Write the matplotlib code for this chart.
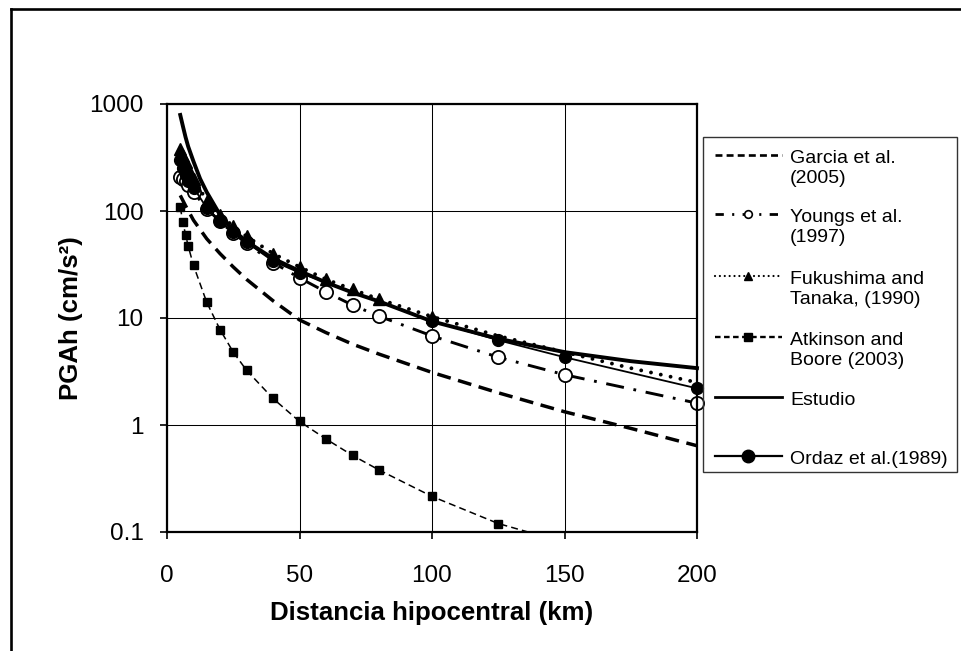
import matplotlib
matplotlib.use('Agg')
import matplotlib.pyplot as plt
from matplotlib.lines import Line2D
from matplotlib.patches import Rectangle

plt.rcParams['font.family'] = ['Liberation Sans', 'DejaVu Sans']
plt.rcParams['lines.scale_dashes'] = False

# ---------------- data ----------------
garcia_x = [5, 7, 10, 15, 20, 25, 30, 40, 50, 60, 70, 80, 100, 125, 150, 175, 200]
garcia_y = [140, 112, 82, 55, 40, 30, 23, 14.5, 9.6, 7.3, 5.7, 4.6, 3.1, 2.0, 1.33, 0.93, 0.64]

youngs_x = [5, 6, 7, 8, 10, 15, 20, 25, 30, 40, 50, 60, 70, 80, 100, 125, 150, 200]
youngs_y = [208, 200, 190, 175, 150, 105, 80, 62, 50, 33, 23.7, 17.5, 13.2, 10.4, 6.8, 4.3, 2.95, 1.6]

fuku_x = [5, 6, 7, 8, 10, 15, 20, 25, 30, 40, 50, 60, 70, 80, 100, 125, 150, 175, 200]
fuku_y = [380, 330, 290, 255, 200, 125, 92, 72, 58, 40, 30, 23, 18.5, 15, 10.3, 6.8, 4.8, 3.4, 2.5]
fuku_n_marked = 15      # markers only up to 100 km

atk_x = [5, 6, 7, 8, 10, 15, 20, 25, 30, 40, 50, 60, 70, 80, 100, 125, 150]
atk_y = [108, 79, 60, 47, 31, 14, 7.8, 4.8, 3.25, 1.77, 1.08, 0.74, 0.52, 0.38, 0.215, 0.12, 0.08]
atk_n_marked = 16

est_x = [5, 6, 7, 8, 10, 12.5, 15, 20, 25, 30, 40, 50, 60, 70, 80, 100, 125, 150, 175, 200]
est_y = [790, 620, 490, 400, 290, 200, 150, 92, 66, 52, 36, 27.5, 21.5, 17.3, 14.3, 9.3, 6.4, 4.8, 3.95, 3.4]

ordaz_x = [5, 6, 7, 8, 10, 15, 20, 25, 30, 40, 50, 100, 125, 150, 200]
ordaz_y = [300, 250, 215, 190, 165, 107, 80, 63, 51, 34, 26.5, 9.4, 6.2, 4.3, 2.2]

xticks = [0, 50, 100, 150, 200]
yticks = [0.1, 1, 10, 100, 1000]
ytick_labels = ['0.1', '1', '10', '100', '1000']

legend_labels = ['Garcia et al.\n(2005)', 'Youngs et al.\n(1997)',
                 'Fukushima and\nTanaka, (1990)', 'Atkinson and\nBoore (2003)',
                 'Estudio', 'Ordaz et al.(1989)']

# ---------------- figure ----------------
W, H = 962, 651
fig = plt.figure(figsize=(W / 100, H / 100), dpi=100)


def fx(x):
    return x / W


def fy(y):
    return 1 - y / H


ax = fig.add_axes([fx(167), fy(532), (697 - 167) / W, (532 - 104) / H])
ax.set_yscale('log')
ax.set_xlim(0, 200)
ax.set_ylim(0.1, 1000)

ax.grid(True, which='major', color='black', linewidth=0.75)
ax.set_axisbelow(True)
ax.minorticks_off()

ax.plot(garcia_x, garcia_y, color='black', lw=2.5, dashes=(10, 5.5), clip_on=False, zorder=3)
ax.plot(youngs_x, youngs_y, color='black', lw=2.1, dashes=(13, 7, 2, 7),
        marker='o', ms=9.5, mfc='white', mec='black', mew=1.3, clip_on=False, zorder=4)
ax.plot(fuku_x, fuku_y, color='black', lw=2.8, dashes=(0.01, 7.2), dash_capstyle='round',
        marker='^', ms=8.5, mfc='black', mec='black', markevery=slice(0, fuku_n_marked),
        clip_on=False, zorder=3)
ax.plot(atk_x, atk_y, color='black', lw=1.1, dashes=(5, 3),
        marker='s', ms=6, mfc='black', mec='black', markevery=slice(0, atk_n_marked), zorder=3)
ax.plot(est_x, est_y, color='black', lw=2.8, clip_on=False, zorder=5)
ax.plot(ordaz_x, ordaz_y, color='black', lw=1.3, marker='o', ms=8.5,
        mfc='black', mec='black', clip_on=False, zorder=6)

for s in ax.spines.values():
    s.set_linewidth(1.6)
    s.set_zorder(7)

ax.set_xticks(xticks)
ax.set_xticklabels([str(v) for v in xticks])
ax.set_yticks(yticks)
ax.set_yticklabels(ytick_labels)
ax.tick_params(axis='both', direction='out', length=5, width=1.2, labelsize=17.5)
ax.tick_params(axis='x', pad=19)
ax.tick_params(axis='y', pad=12)

ax.set_xlabel('Distancia hipocentral (km)', fontsize=18.6, fontweight='bold', va='center')
ax.xaxis.set_label_coords(0.5, -(613 - 532) / 428)
ax.set_ylabel('PGAh (cm/s²)', fontsize=18.6, fontweight='bold', va='center')
ax.yaxis.set_label_coords((71 - 167) / 530, 0.5)

# ---------------- legend (drawn manually, Excel-like) ----------------
fig.patches.append(Rectangle((fx(703), fy(472)), (957 - 703) / W, (472 - 137) / H,
                             transform=fig.transFigure, fill=False,
                             edgecolor='#333333', lw=1.0))

entry_y = [155, 214, 276, 337, 397, 456]
hx0, hx1, hxm = 715, 782, 748.5
styles = [
    dict(lw=1.9, dashes=(5, 3)),
    dict(lw=2.0, dashes=(6, 6, 1.5, 6)),
    dict(lw=1.6, dashes=(0.01, 3.5), dash_capstyle='round'),
    dict(lw=1.7, dashes=(4, 2.5)),
    dict(lw=2.0),
    dict(lw=1.6),
]
markers = [None,
           dict(marker='o', ms=5.5, mfc='white', mec='black', mew=1.2),
           dict(marker='^', ms=6, mfc='black', mec='black'),
           dict(marker='s', ms=5.5, mfc='black', mec='black'),
           None,
           dict(marker='o', ms=9, mfc='black', mec='black')]

for yy, st, mk, lab in zip(entry_y, styles, markers, legend_labels):
    fig.add_artist(Line2D([fx(hx0), fx(hx1)], [fy(yy), fy(yy)], transform=fig.transFigure,
                          color='black', **st))
    if mk is not None:
        fig.add_artist(Line2D([fx(hxm)], [fy(yy)], transform=fig.transFigure,
                              color='black', linestyle='none', **mk))
    fig.text(fx(790), fy(yy - 5), lab, fontsize=14, ha='left', va='top',
             linespacing=1.22)

# ---------------- outer frame ----------------
fig.add_artist(Line2D([fx(11), fx(W + 5)], [fy(9), fy(9)], transform=fig.transFigure,
                      color='black', lw=1.9))
fig.add_artist(Line2D([fx(11), fx(11)], [fy(9), fy(H + 5)], transform=fig.transFigure,
                      color='black', lw=1.9))

fig.savefig('out.png', dpi=100)
